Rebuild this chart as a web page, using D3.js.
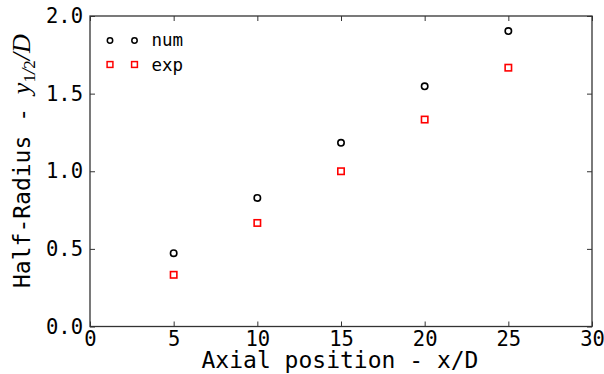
<!DOCTYPE html>
<html><head><meta charset="utf-8">
<script src="https://cdn.jsdelivr.net/npm/d3@7"></script>
<style>body{margin:0;background:#fff}svg{display:block}</style>
</head><body>
<svg id="c" width="604" height="374"></svg>
<script>
const positions = [5, 10, 15, 20, 25];
const numValues = [0.472, 0.828, 1.183, 1.547, 1.903];
const expValues = [0.333, 0.667, 1.0, 1.333, 1.667];
const xTicks = [0, 5, 10, 15, 20, 25, 30];
const yTicks = [0, 0.5, 1.0, 1.5, 2.0];
const seriesNames = ["num", "exp"];

const svg = d3.select("#c");
const L = 90, R = 592, T = 16, B = 326.5;
const x = d3.scaleLinear().domain([0, 30]).range([L, R]);
const y = d3.scaleLinear().domain([0, 2]).range([B, T]);
const mono = "DejaVu Sans Mono";
const axisColor = "#333";

// frame
svg.append("rect").attr("x", L).attr("y", T).attr("width", R - L).attr("height", B - T)
  .attr("fill", "none").attr("stroke", axisColor).attr("stroke-width", 1.3);

const tl = 5;
const xb = svg.append("g").attr("transform", `translate(0,${B})`)
  .call(d3.axisBottom(x).tickValues(xTicks).tickSize(-tl).tickPadding(5).tickFormat(d3.format("d")));
const xt = svg.append("g").attr("transform", `translate(0,${T})`)
  .call(d3.axisTop(x).tickValues(xTicks).tickSize(-tl).tickFormat(""));
const yl = svg.append("g").attr("transform", `translate(${L},0)`)
  .call(d3.axisLeft(y).tickValues(yTicks).tickSize(-tl).tickPadding(7).tickFormat(d3.format(".1f")));
const yr = svg.append("g").attr("transform", `translate(${R},0)`)
  .call(d3.axisRight(y).tickValues(yTicks).tickSize(-tl).tickFormat(""));
[xb, xt, yl, yr].forEach(g => {
  g.select(".domain").remove();
  g.selectAll(".tick line").attr("stroke", axisColor).attr("stroke-width", 1);
  g.selectAll(".tick text").attr("fill", "#000").attr("font-family", mono).attr("font-size", 20.5);
});

// data
svg.append("g").selectAll("circle").data(positions).join("circle")
  .attr("cx", (d) => x(d)).attr("cy", (d, i) => y(numValues[i])).attr("r", 3.2)
  .attr("fill", "none").attr("stroke", "#000").attr("stroke-width", 1.6);
svg.append("g").selectAll("rect").data(positions).join("rect")
  .attr("x", (d) => x(d) - 3.2).attr("y", (d, i) => y(expValues[i]) - 3.2)
  .attr("width", 6.4).attr("height", 6.4)
  .attr("fill", "none").attr("stroke", "#f00").attr("stroke-width", 1.6);

// legend
const lg = svg.append("g");
[110, 134.5].forEach(mx => {
  lg.append("circle").attr("cx", mx).attr("cy", 40.5).attr("r", 2.7)
    .attr("fill", "none").attr("stroke", "#000").attr("stroke-width", 1.5);
  lg.append("rect").attr("x", mx - 2.9).attr("y", 61.6).attr("width", 5.8).attr("height", 5.8)
    .attr("fill", "none").attr("stroke", "#f00").attr("stroke-width", 1.5);
});
lg.append("text").attr("x", 151.5).attr("y", 46).text(seriesNames[0])
  .attr("font-family", mono).attr("font-size", 17.5);
lg.append("text").attr("x", 151.5).attr("y", 70.5).text(seriesNames[1])
  .attr("font-family", mono).attr("font-size", 17.5);

// axis labels
svg.append("text").attr("x", (L + R) / 2 - 1).attr("y", 368).attr("text-anchor", "middle")
  .attr("font-family", mono).attr("font-size", 23).text("Axial position - x/D");

const ylab = svg.append("text").attr("transform", "translate(30,288) rotate(-90)")
  .attr("font-family", mono).attr("font-size", 23);
ylab.append("tspan").text("Half-Radius - ");
const ser = "Liberation Serif";
ylab.append("tspan").attr("font-family", ser).attr("font-style", "italic").attr("font-size", 26).text("y");
ylab.append("tspan").attr("font-family", ser).attr("font-size", 17).attr("dy", 5).text("1");
ylab.append("tspan").attr("font-family", ser).attr("font-style", "italic").attr("font-size", 19).text("/");
ylab.append("tspan").attr("font-family", ser).attr("font-size", 17).text("2");
ylab.append("tspan").attr("font-family", ser).attr("font-style", "italic").attr("font-size", 26).attr("dy", -5).text("/D");
</script>
</body></html>
